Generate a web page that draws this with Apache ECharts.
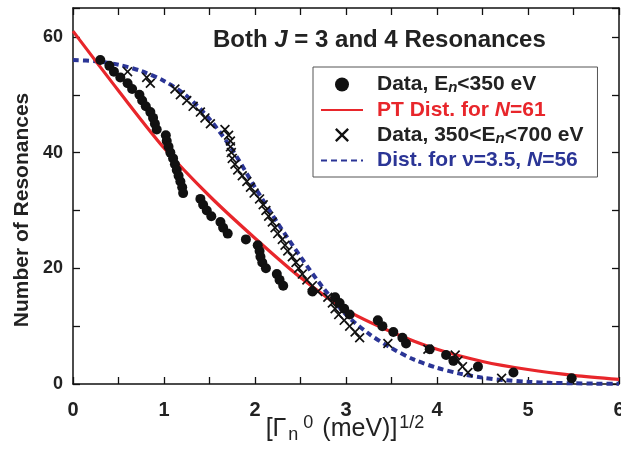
<!DOCTYPE html>
<html>
<head>
<meta charset="utf-8">
<script src="https://cdn.jsdelivr.net/npm/echarts@6/dist/echarts.min.js"></script>
<style>html,body{margin:0;padding:0;background:#fff}#c{width:621px;height:451px}</style>
</head>
<body>
<div id="c"></div>
<script>
// Data, En<350 eV : width amplitude vs cumulative number
const dotX = [0.30,0.40,0.45,0.52,0.60,0.65,0.73,0.76,0.80,0.85,0.88,0.90,0.92,1.02,1.03,1.05,1.07,1.10,1.12,1.14,1.16,1.18,1.20,1.21,1.40,1.43,1.47,1.52,1.62,1.65,1.70,1.90,2.03,2.05,2.06,2.08,2.12,2.24,2.27,2.31,2.63,2.88,2.93,2.98,3.04,3.35,3.40,3.52,3.62,3.66,3.92,4.10,4.18,4.45,4.84,5.48];
const dotN = [56,55,54,53,52,51,50,49,48,47,46,45,44,43,42,41,40,39,38,37,36,35,34,33,32,31,30,29,28,27,26,25,24,23,22,21,20,19,18,17,16,15,14,13,12,11,10,9,8,7,6,5,4,3,2,1];
// Data, 350<En<700 eV
const crossX = [0.60,0.81,0.85,1.12,1.18,1.25,1.32,1.40,1.45,1.51,1.67,1.71,1.73,1.73,1.74,1.75,1.78,1.81,1.86,1.91,1.95,1.99,2.05,2.09,2.12,2.15,2.19,2.22,2.25,2.30,2.33,2.36,2.41,2.45,2.48,2.52,2.57,2.63,2.69,2.80,2.85,2.88,2.92,2.98,3.04,3.10,3.15,3.46,3.90,4.20,4.23,4.28,4.34,4.71];
const crossN = [54,53,52,51,50,49,48,47,46,45,44,43,42,41,40,39,38,37,36,35,34,33,32,31,30,29,28,27,26,25,24,23,22,21,20,19,18,17,16,15,14,13,12,11,10,9,8,7,6,5,4,3,2,1];
// PT distribution, N=61
const redX = [0,0.5,1,1.5,2,2.5,3,3.5,4,4.5,5,5.5,6];
const redY = [61,50.7,40.8,32.5,25.2,18.4,12.8,9.0,6.0,3.9,2.5,1.5,0.8];
// Distribution for nu=3.5, N=56
const blueX = [0,0.25,0.5,0.75,1,1.25,1.5,1.75,2,2.25,2.5,2.75,3,3.25,3.5,3.75,4,4.25,4.5,4.75,5,5.25,5.5,5.75,6];
const blueY = [56,55.8,55.2,54.1,52.4,49.8,45.8,40.5,34,27.8,22,16.6,12,8.7,6.2,4.2,2.8,1.8,1.1,0.65,0.38,0.2,0.12,0.06,0.03];
const xTicks = [0,1,2,3,4,5,6];
const yTicks = [0,20,40,60];

const zip = (a,b) => a.map((v,i)=>[v,b[i]]);
const names = ['Data, En<350 eV','PT Dist. for N=61','Data, 350<En<700 eV','Dist. for ν=3.5, N=56'];
const labelFmt = {
  'Data, En<350 eV':'{g|}Data, E{sub|n}<350 eV',
  'PT Dist. for N=61':'{g|}PT Dist. for {it|N}=61',
  'Data, 350<En<700 eV':'{g|}Data, 350<E{sub|n}<700 eV',
  'Dist. for ν=3.5, N=56':'{g|}Dist. for ν=3.5, {it|N}=56'
};
const RED = '#e8262b', BLUE = '#2b3596', FONT = 'Liberation Sans, Arial, sans-serif';
const crossPath = 'path://M1.2,0 L5,3.8 L8.8,0 L10,1.2 L6.2,5 L10,8.8 L8.8,10 L5,6.2 L1.2,10 L0,8.8 L3.8,5 L0,1.2 Z';
const hideSym = {color:'rgba(0,0,0,0)',borderColor:'rgba(0,0,0,0)',borderWidth:0};

const chart = echarts.init(document.getElementById('c'), null, {renderer:'canvas'});
const axisCommon = {
  axisLine:{show:true,onZero:false,lineStyle:{color:'#111',width:1.5}},
  axisTick:{show:true,inside:true,length:7,lineStyle:{color:'#111',width:1.3}},
  splitLine:{show:false}
};
chart.setOption({
  animation:false,
  title:{
    text:'Both {i|J} = 3 and 4 Resonances',
    left:208, top:23,
    textStyle:{fontFamily:FONT,fontSize:24,fontWeight:'bold',color:'#222',
      rich:{i:{fontFamily:FONT,fontSize:24,fontWeight:'bold',fontStyle:'italic',color:'#222'}}}
  },
  graphic:[{
    type:'text', x:22, y:210, rotation:Math.PI/2,
    style:{text:'Number of Resonances',fontFamily:FONT,fontSize:21,fontWeight:'bold',fill:'#222',
      align:'center',verticalAlign:'middle'}
  }],
  grid:{left:73,right:2,top:8,bottom:67,containLabel:false,outerBoundsMode:'none'},
  legend:{
    orient:'vertical', left:313, top:67,
    padding:[7,14,6,7], itemGap:4, itemWidth:42, itemHeight:14,
    borderColor:'#555', borderWidth:1, backgroundColor:'#fff',
    data:[
      {name:names[0],textStyle:{color:'#222'}},
      {name:names[1],textStyle:{color:RED},itemStyle:hideSym},
      {name:names[2],textStyle:{color:'#222'}},
      {name:names[3],textStyle:{color:BLUE},itemStyle:hideSym}
    ],
    formatter:n=>labelFmt[n],
    textStyle:{fontFamily:FONT,fontSize:21,fontWeight:'bold',
      rich:{g:{width:9},
            sub:{fontFamily:FONT,fontSize:15,fontWeight:'bold',fontStyle:'italic',padding:[7,0,0,0]},
            it:{fontFamily:FONT,fontSize:21,fontWeight:'bold',fontStyle:'italic'}}}
  },
  xAxis:[
    Object.assign({type:'value',min:0,max:6,interval:0.5,position:'bottom',
      name:'[Γ{sub|n}{sup|0} (meV)]{sup|1/2}',nameLocation:'middle',nameGap:30,nameMoveOverlap:false,
      nameTextStyle:{fontFamily:FONT,fontSize:25,color:'#222',
        rich:{sub:{fontFamily:FONT,fontSize:18,color:'#222',padding:[12,3,0,2]},
              sup:{fontFamily:FONT,fontSize:18,color:'#222',padding:[0,2,12,2]}}},
      axisLabel:{color:'#222',fontFamily:FONT,fontSize:20,fontWeight:'bold',margin:16,
        formatter:v=>xTicks.includes(v)?String(v):''}},axisCommon),
    Object.assign({type:'value',min:0,max:6,interval:0.5,position:'top',axisLabel:{show:false}},axisCommon)
  ],
  yAxis:[
    Object.assign({type:'value',min:0,max:65,interval:10,position:'left',
      axisLabel:{color:'#222',fontFamily:FONT,fontSize:18,fontWeight:'bold',margin:10,
        formatter:v=>yTicks.includes(v)?String(v):''}},axisCommon),
    Object.assign({type:'value',min:0,max:65,interval:10,position:'right',axisLabel:{show:false}},axisCommon)
  ],
  series:[
    {name:names[1],type:'line',data:zip(redX,redY),smooth:0.3,showSymbol:false,symbol:'none',
      lineStyle:{color:RED,width:3.2},itemStyle:{color:RED},z:3},
    {name:names[3],type:'line',data:zip(blueX,blueY),smooth:0.3,showSymbol:false,symbol:'none',
      lineStyle:{color:BLUE,width:4,type:[6,4]},itemStyle:{color:BLUE},z:2},
    {name:names[0],type:'scatter',data:zip(dotX,dotN),symbol:'circle',symbolSize:10,
      itemStyle:{color:'#111',opacity:1},z:4},
    {name:names[2],type:'scatter',data:zip(crossX,crossN),symbol:crossPath,symbolSize:10,
      itemStyle:{color:'#111',opacity:1},z:5}
  ]
});
</script>
</body>
</html>
